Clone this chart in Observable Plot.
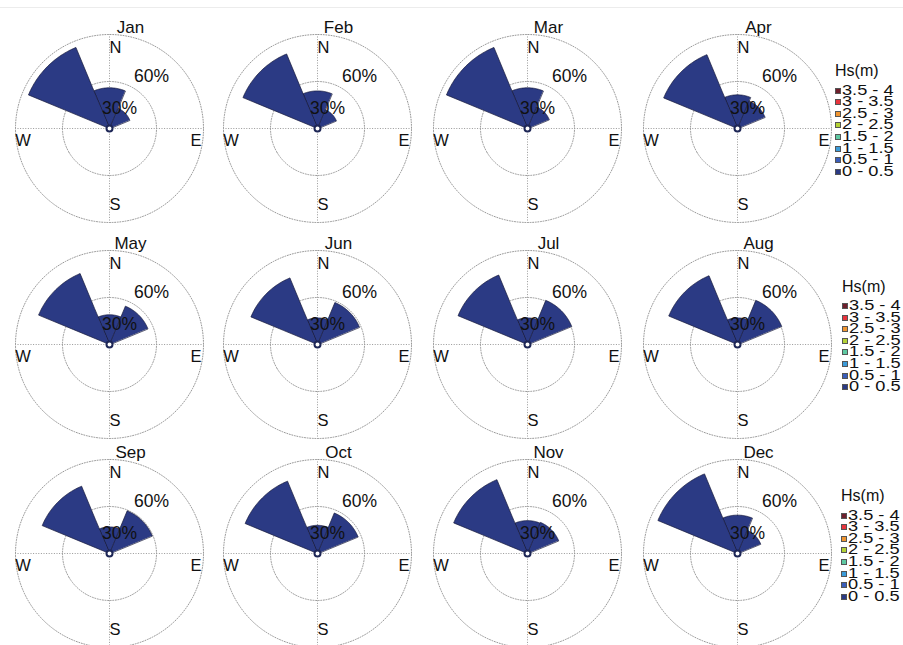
<!DOCTYPE html>
<html>
<head>
<meta charset="utf-8">
<script src="https://cdn.jsdelivr.net/npm/d3@7"></script>
<script src="https://cdn.jsdelivr.net/npm/@observablehq/plot@0.6"></script>
<style>
  body { margin: 0; background: #fff; }
  #fig { position: relative; width: 903px; height: 645px; overflow: hidden; background: #fff;
         font-family: "Liberation Sans", Arial, Helvetica, sans-serif; color: #111; }
  .rose { position: absolute; }
  .rose svg { background: transparent !important; overflow: visible; }
  .topline { position: absolute; left: 0; right: 0; top: 7px; height: 1px; background: #ececec; }
  .lg-title { position: absolute; font-size: 16px; line-height: 14px; white-space: nowrap; }
  .lg-item { position: absolute; height: 11px; white-space: nowrap; }
  .lg-sw { position: absolute; left: 0; top: 3px; width: 4px; height: 4px; border: 0.8px solid #555; }
  .lg-tx { position: absolute; top: 0; font-size: 14px; line-height: 11px;
           display: inline-block; transform: scaleX(1.3); transform-origin: 0 50%; }
</style>
</head>
<body>
<div id="fig"><div class="topline"></div></div>
<script>
// Monthly wave roses: frequency of occurrence (%) per incoming direction sector.
const months = ["Jan", "Feb", "Mar", "Apr", "May", "Jun", "Jul", "Aug", "Sep", "Oct", "Nov", "Dec"];
const freqNW = [56, 51.5, 56, 51, 49, 46, 48, 47.5, 46.5, 50, 51, 55];
const freqN  = [26, 24, 26, 21.5, 19, 17, 17, 17, 17, 18, 21, 24.5];
const freqNE = [14, 13, 15, 19, 26.5, 29, 30.5, 30.5, 29.5, 28, 21.5, 16];
const sectorNames = ["N", "NE", "NW"];
const sectorBearings = [0, 45, 315];
const sectorWidth = 45;

// Significant wave height classes (all records fall in the lowest class)
const hsClasses = ["3.5 - 4", "3 - 3.5", "2.5 - 3", "2 - 2.5", "1.5 - 2", "1 - 1.5", "0.5 - 1", "0 - 0.5"];
const hsColors = ["#6e1f2b", "#e8343c", "#f09530", "#b4d235", "#5ec9a2", "#3b9bd9", "#3a5db9", "#2b3a84"];
const monthClass = "0 - 0.5";

const ringValues = [30, 60];
const compassLabels = ["N", "E", "S", "W"];
const compassBearings = [0, 90, 180, 270];

// Page layout (pixel centres of the roses) and panel geometry
const colCenters = [108.5, 317, 526.5, 737];
const rowCenters = [128, 343.5, 553];
const panelW = 210, panelH = 230, frame = 188;
const ringMax = d3.max(ringValues);
const compassAnchor = 50; // radius (%) the compass letters are anchored to

// bearing (clockwise from north) -> longitude on a pole-centred azimuthal projection
const lon = (b) => 180 - b;

function sectorFeature(bearing, value, cls) {
  const a = bearing - sectorWidth / 2, b = bearing + sectorWidth / 2, r0 = 1.2;
  const ring = [];
  for (let t = b; t >= a - 1e-9; t -= 1) ring.push([lon(t), 90 - r0]);
  for (let t = a; t <= b + 1e-9; t += 1) ring.push([lon(t), 90 - value]);
  ring.push(ring[0]);
  return {type: "Feature", properties: {hs: cls, value}, geometry: {type: "Polygon", coordinates: [ring]}};
}

const compassOffsets = {N: [6, -2.7], S: [5.5, -2.3], W: [-8.2, 12.5], E: [8.2, 12.5]};
const ringLabelOffsets = {30: [10, -20], 60: [42, -52]};

const fig = document.getElementById("fig");

months.forEach((m, i) => {
  const values = [freqN[i], freqNE[i], freqNW[i]];
  const feats = sectorNames.map((s, k) => sectorFeature(sectorBearings[k], values[k], monthClass));
  const compass = compassLabels.map((c, k) => ({label: c, bearing: compassBearings[k]}));

  const chart = Plot.plot({
    width: panelW, height: panelH,
    marginLeft: (panelW - frame) / 2, marginRight: (panelW - frame) / 2,
    marginTop: (panelH - frame) / 2, marginBottom: (panelH - frame) / 2,
    projection: {
      type: "azimuthal-equidistant",
      rotate: [0, -90],
      domain: d3.geoCircle().center([0, 90]).radius(ringMax)()
    },
    color: {domain: hsClasses, range: hsColors},
    style: {fontFamily: "Liberation Sans, Arial, sans-serif", fontSize: "17px", background: "transparent", color: "#111"},
    marks: [
      // dotted grid: rings and compass cross
      Plot.geo(ringValues, {
        geometry: (v) => d3.geoCircle().center([0, 90]).radius(v).precision(1)(),
        fill: "none", stroke: "#8c8c8c", strokeWidth: 0.9, strokeDasharray: "1,1.6"
      }),
      Plot.link(compass, {
        x1: (d) => lon(d.bearing), y1: 90, x2: (d) => lon(d.bearing), y2: 90 - ringMax,
        stroke: "#8c8c8c", strokeWidth: 0.9, strokeDasharray: "1,1.6"
      }),
      // direction sectors
      Plot.geo(feats, {fill: (d) => d.properties.hs, stroke: "#15183a", strokeWidth: 0.7}),
      // centre marker
      Plot.dot([0], {x: 0, y: 90, r: 3, fill: "white", stroke: "#1d2656", strokeWidth: 2}),
      // ring labels
      ...ringValues.map((v) => Plot.text([v], {
        x: 0, y: 90, text: (d) => `${d}%`, fontSize: 17.5, fill: "#111",
        dx: ringLabelOffsets[v][0], dy: ringLabelOffsets[v][1], lineAnchor: "middle"
      })),
      // compass letters
      ...compass.map((c) => Plot.text([c], {
        x: (d) => lon(d.bearing), y: 90 - compassAnchor, text: "label", fontSize: 16.5, fill: "#111",
        dx: compassOffsets[c.label][0], dy: compassOffsets[c.label][1], lineAnchor: "middle"
      })),
      // month title
      Plot.text([m], {x: 0, y: 90, text: (d) => d, fontSize: 17, fill: "#111", dx: 21, dy: -101, lineAnchor: "middle"})
    ]
  });

  const div = document.createElement("div");
  div.className = "rose";
  const cx = colCenters[i % 4], cy = rowCenters[Math.floor(i / 4)];
  div.style.left = `${cx - panelW / 2}px`;
  div.style.top = `${cy - panelH / 2}px`;
  div.appendChild(chart);
  fig.appendChild(div);
});

// One legend per row of roses
const legendLeft = [835, 842, 841];
rowCenters.forEach((cy, r) => {
  const x0 = legendLeft[r];
  const t = document.createElement("div");
  t.className = "lg-title";
  t.style.left = `${x0}px`;
  t.style.top = `${cy - 64}px`;
  t.textContent = "Hs(m)";
  fig.appendChild(t);
  hsClasses.forEach((c, k) => {
    const it = document.createElement("div");
    it.className = "lg-item";
    it.style.left = `${x0}px`;
    it.style.top = `${cy - 38 + k * 11.6 - 5.5}px`;
    const sw = document.createElement("div");
    sw.className = "lg-sw";
    sw.style.background = hsColors[k];
    const tx = document.createElement("span");
    tx.className = "lg-tx";
    tx.style.left = "7px";
    tx.textContent = c;
    it.appendChild(sw);
    it.appendChild(tx);
    fig.appendChild(it);
  });
});
</script>
</body>
</html>
